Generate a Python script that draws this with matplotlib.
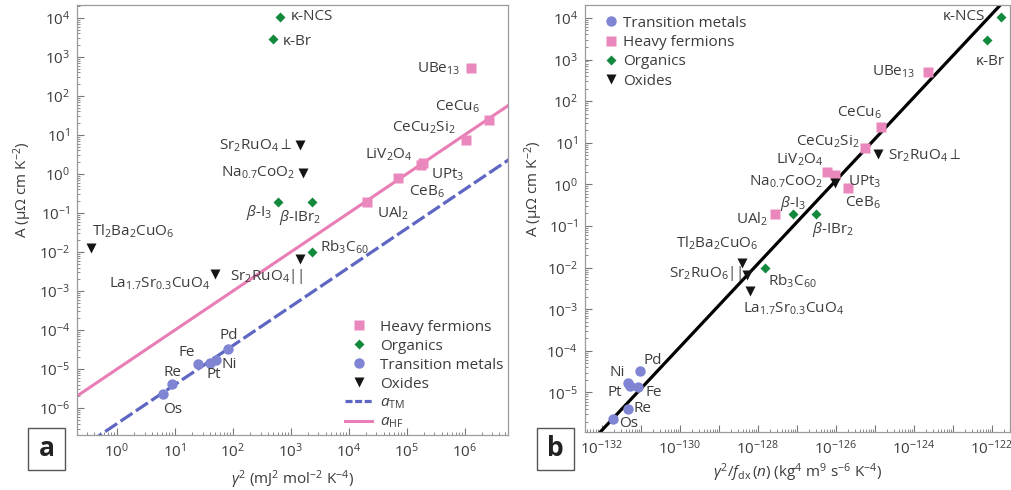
"""Kadowaki-Woods plot: A vs gamma^2 (a) and A vs gamma^2/f_dx(n) (b)"""

import numpy as np
import matplotlib
matplotlib.use('Agg')
import matplotlib.pyplot as plt
from matplotlib.lines import Line2D
from matplotlib.patches import Rectangle
from matplotlib.ticker import LogLocator, FuncFormatter, NullFormatter

plt.rcParams['font.family'] = ['Open Sans', 'DejaVu Sans']
plt.rcParams['mathtext.fontset'] = 'custom'
plt.rcParams['mathtext.rm'] = 'Open Sans'
plt.rcParams['mathtext.it'] = 'Open Sans:italic'
plt.rcParams['mathtext.bf'] = 'Open Sans:bold'
plt.rcParams['mathtext.sf'] = 'Open Sans'
plt.rcParams['mathtext.default'] = 'regular'
plt.rcParams['font.size'] = 10

# ---- data ----
# heavy fermions
hf_names = ['UBe$_{13}$', 'CeCu$_6$', 'CeCu$_2$Si$_2$', 'LiV$_2$O$_4$', 'UPt$_3$', 'CeB$_6$', 'UAl$_2$']
hf_gamma2 = [1.3e6, 2.65e6, 1.07e6, 1.9e5, 1.8e5, 7.1e4, 2.1e4]
hf_xb = [2.3e-124, 1.4e-125, 5.5e-126, 5.9e-127, 9.3e-127, 2.0e-126, 2.75e-128]
hf_A = [510, 24, 7.3, 1.95, 1.7, 0.8, 0.19]

# organics
org_names = ['κ-NCS', 'κ-Br', r'$\mathit{\beta}$-I$_3$', r'$\mathit{\beta}$-IBr$_2$', 'Rb$_3$C$_{60}$']
org_gamma2 = [660, 490, 600, 2340, 2340]
org_xb = [1.7e-122, 7.4e-123, 7.9e-128, 3.1e-127, 1.5e-128]
org_A = [1.06e4, 2950, 0.19, 0.19, 0.01]

# transition metals
tm_names = ['Pd', 'Ni', 'Pt', 'Fe', 'Re', 'Os']
tm_gamma2 = [84, 51, 40.5, 24.7, 9.0, 6.3]
tm_xb = [9.1e-132, 4.7e-132, 5.2e-132, 8.1e-132, 4.6e-132, 1.95e-132]
tm_A = [3.2e-5, 1.7e-5, 1.45e-5, 1.35e-5, 4.1e-6, 2.3e-6]

# oxides
ox_names = [r'Sr$_2$RuO$_4$$\perp$', 'Na$_{0.7}$CoO$_2$', 'Tl$_2$Ba$_2$CuO$_6$',
            'Sr$_2$RuO$_4$||', 'La$_{1.7}$Sr$_{0.3}$CuO$_4$']
ox_gamma2 = [1450, 1630, 0.35, 1450, 49]
ox_xb = [1.2e-125, 9.3e-127, 3.9e-129, 5.2e-129, 6.2e-129]
ox_A = [5.4, 1.07, 0.0128, 0.0065, 0.0028]

# panel b prints this one differently
names_b = {'Sr$_2$RuO$_4$||': 'Sr$_2$RuO$_6$||'}

# Kadowaki-Woods ratios
a_HF = 1.0e-5     # muOhm cm (mol K / mJ)^2
a_TM = 0.4e-6
hbar, kB, e = 1.054571817e-34, 1.380649e-23, 1.602176634e-19
kw_b = 81 / (4 * np.pi * hbar * kB**2 * e**2) * 1e8   # to muOhm cm

# ---- styling ----
pink = '#ea88bd'
pink_line = '#e97db5'
green = '#12893d'
blue = '#7f85d3'
blue_line = '#5d66c2'
black = '#141414'
txt = '#3c3c3c'
spine = '#9a9a9a'
fs = 11

groups = [
    ('Heavy fermions', hf_names, hf_gamma2, hf_xb, hf_A, dict(marker='s', ms=7.5, color=pink)),
    ('Organics', org_names, org_gamma2, org_xb, org_A, dict(marker='D', ms=5.2, color=green)),
    ('Transition metals', tm_names, tm_gamma2, tm_xb, tm_A, dict(marker='o', ms=7.5, color=blue)),
    ('Oxides', ox_names, ox_gamma2, ox_xb, ox_A, dict(marker='v', ms=7.5, color=black)),
]

# label offsets (pixels, +y up) and alignment
offs_a = {
    'κ-NCS': (10, 0, 'left'), 'κ-Br': (10, -3, 'left'),
    'UBe$_{13}$': (-11, 0, 'right'), 'CeCu$_6$': (-9, 13, 'right'),
    'CeCu$_2$Si$_2$': (-11, 12, 'right'), 'LiV$_2$O$_4$': (-10, 8, 'right'),
    'UPt$_3$': (10, -10, 'left'), 'CeB$_6$': (11, -14, 'left'), 'UAl$_2$': (10, -11, 'left'),
    r'Sr$_2$RuO$_4$$\perp$': (-8, 0, 'right'), 'Na$_{0.7}$CoO$_2$': (-8, 0, 'right'),
    r'$\mathit{\beta}$-I$_3$': (-6, -10, 'right'), r'$\mathit{\beta}$-IBr$_2$': (-12, -15, 'center'),
    'Rb$_3$C$_{60}$': (8, 5, 'left'), 'Tl$_2$Ba$_2$CuO$_6$': (1, 17, 'left'),
    'La$_{1.7}$Sr$_{0.3}$CuO$_4$': (-5, -10, 'right'), 'Sr$_2$RuO$_4$||': (3, -17, 'right'),
    'Pd': (0, 14, 'center'), 'Fe': (-3, 11, 'right'), 'Re': (0, 12, 'center'),
    'Os': (0, -16, 'left'), 'Pt': (4, -12, 'center'), 'Ni': (6, -4, 'left'),
}
offs_b = {
    'κ-NCS': (-16, 0, 'right'), 'κ-Br': (3, -22, 'center'),
    'UBe$_{13}$': (-13, 0, 'right'), 'CeCu$_6$': (-21, 14, 'center'),
    'CeCu$_2$Si$_2$': (-5, 7, 'right'), r'Sr$_2$RuO$_4$$\perp$': (10, -2, 'left'),
    'LiV$_2$O$_4$': (-4, 12, 'right'), 'Na$_{0.7}$CoO$_2$': (-12, 1, 'right'),
    'UPt$_3$': (13, -7, 'left'), 'CeB$_6$': (15, -14, 'center'), 'UAl$_2$': (-7, -5, 'right'),
    r'$\mathit{\beta}$-I$_3$': (0, 11, 'center'), r'$\mathit{\beta}$-IBr$_2$': (17, -15, 'center'),
    'Tl$_2$Ba$_2$CuO$_6$': (-25, 20, 'center'), 'Sr$_2$RuO$_4$||': (-5, 2, 'right'),
    'Rb$_3$C$_{60}$': (3, -14, 'left'), 'La$_{1.7}$Sr$_{0.3}$CuO$_4$': (-7, -18, 'left'),
    'Pd': (4, 11, 'left'), 'Ni': (-3, 10, 'right'), 'Pt': (-8, -7, 'right'),
    'Fe': (8, -5, 'left'), 'Re': (6, 0, 'left'), 'Os': (6, -4, 'left'),
}


def style_axes(ax):
    for s in ax.spines.values():
        s.set_color(spine)
        s.set_linewidth(0.9)
    ax.tick_params(which='both', direction='in', top=False, right=False,
                   color='#777777', labelcolor=txt, labelsize=fs)
    ax.tick_params(which='major', length=5, width=0.8, pad=5)
    ax.tick_params(which='minor', length=2.5, width=0.6)
    ax.yaxis.set_major_locator(LogLocator(base=10, numticks=30))
    ax.yaxis.set_minor_locator(LogLocator(base=10, subs=np.arange(2, 10), numticks=200))
    ax.yaxis.set_minor_formatter(NullFormatter())


fig = plt.figure(figsize=(10.11, 4.9), dpi=100)
axa = fig.add_axes([0.0762, 0.1122, 0.4263, 0.8776])
axb = fig.add_axes([0.5786, 0.1184, 0.4204, 0.8714])

# ---- panel a ----
g = np.logspace(-1, 7.5, 60)
axa.plot(g, a_TM * g, color=blue_line, lw=2.3, ls=(0, (4.5, 1.3)), zorder=2)
axa.plot(g, a_HF * g, color=pink_line, lw=2.2, zorder=2)
for label, names, gx, xb, A, st in groups:
    axa.plot(gx, A, ls='none', mec='none', zorder=3, **st)
    for n, xv, yv in zip(names, gx, A):
        dx, dy, ha = offs_a[n]
        axa.annotate(n, (xv, yv), xytext=(dx, dy), textcoords='offset pixels',
                     ha=ha, va='center', color=txt, fontsize=fs)

axa.set_xscale('log')
axa.set_yscale('log')
axa.set_xlim(10**-0.69, 10**6.75)
axa.set_ylim(10**-6.69, 10**4.33)
style_axes(axa)
axa.xaxis.set_major_locator(LogLocator(base=10, numticks=30))
axa.xaxis.set_minor_locator(LogLocator(base=10, subs=np.arange(2, 10), numticks=200))
axa.xaxis.set_minor_formatter(NullFormatter())
axa.set_xlabel(r'$\mathit{\gamma}^2$ (mJ$^2$ mol$^{-2}$ K$^{-4}$)', color=txt, fontsize=fs)
axa.set_ylabel('A (µΩ cm K$^{-2}$)', color=txt, fontsize=fs)
axa.xaxis.set_label_coords(0.5, -0.078)
axa.yaxis.set_label_coords(-0.100, 0.57)

leg_handles = [Line2D([], [], ls='none', mec='none', **st) for _, _, _, _, _, st in groups]
leg_handles += [Line2D([], [], color=blue_line, lw=2.3, ls=(0, (2.2, 0.8))),
                Line2D([], [], color=pink_line, lw=2.2)]
leg_labels = [grp[0] for grp in groups] + [r'$\mathit{a}_{\rm TM}$', r'$\mathit{a}_{\rm HF}$']
axa.legend(leg_handles, leg_labels, loc='lower right', bbox_to_anchor=(1.0, 0.0),
           frameon=False, fontsize=fs, handlelength=1.8, handletextpad=0.5,
           labelspacing=0.26, borderaxespad=0.0, borderpad=0.3, labelcolor=txt)

# ---- panel b ----
xline = np.logspace(-133, -121, 60)
axb.plot(xline, kw_b * xline, color='black', lw=2.3, zorder=2)
order_b = [2, 0, 1, 3]   # legend order in panel b
for i in order_b:
    label, names, gx, xb, A, st = groups[i]
    axb.plot(xb, A, ls='none', mec='none', zorder=3, label=label, **st)
    for n, xv, yv in zip(names, xb, A):
        dx, dy, ha = offs_b[n]
        axb.annotate(names_b.get(n, n), (xv, yv), xytext=(dx, dy), textcoords='offset pixels',
                     ha=ha, va='center', color=txt, fontsize=fs)

axb.set_xscale('log')
axb.set_yscale('log')
axb.set_xlim(10**-132.44, 10**-121.54)
axb.set_ylim(10**-5.95, 10**4.31)
style_axes(axb)
axb.xaxis.set_major_locator(LogLocator(base=10, numticks=30))
axb.xaxis.set_minor_locator(LogLocator(base=10, subs=np.arange(2, 10), numticks=300))
axb.xaxis.set_minor_formatter(NullFormatter())


def even_decades(v, pos):
    ex = int(round(np.log10(v)))
    if ex % 2:
        return ''
    return r'$\mathdefault{10^{%d}}$' % ex


axb.xaxis.set_major_formatter(FuncFormatter(even_decades))
axb.set_xlabel(r'$\mathit{\gamma}^2/\mathit{f}_{\rm dx}\,(\mathit{n})$ (kg$^4$ m$^9$ s$^{-6}$ K$^{-4}$)',
               color=txt, fontsize=fs)
axb.set_ylabel('A (µΩ cm K$^{-2}$)', color=txt, fontsize=fs)
axb.xaxis.set_label_coords(0.5, -0.068)
axb.yaxis.set_label_coords(-0.094, 0.57)
axb.legend(loc='upper left', bbox_to_anchor=(0.024, 1.0), frameon=False, fontsize=fs,
           handlelength=0.7, handletextpad=0.4, labelspacing=0.28, borderaxespad=0.3,
           labelcolor=txt, numpoints=1)

# ---- panel letters ----
for x0, letter in [(0.0277, 'a'), (0.531, 'b')]:
    fig.add_artist(Rectangle((x0, 0.0408), 0.0370, 0.0857, transform=fig.transFigure,
                             fill=False, edgecolor='#555555', lw=1.0))
    fig.text(x0 + 0.0185, 0.0408 + 0.043, letter, ha='center', va='center',
             fontsize=19, fontweight='bold', color='#222222')

fig.savefig('out.png', dpi=100)
